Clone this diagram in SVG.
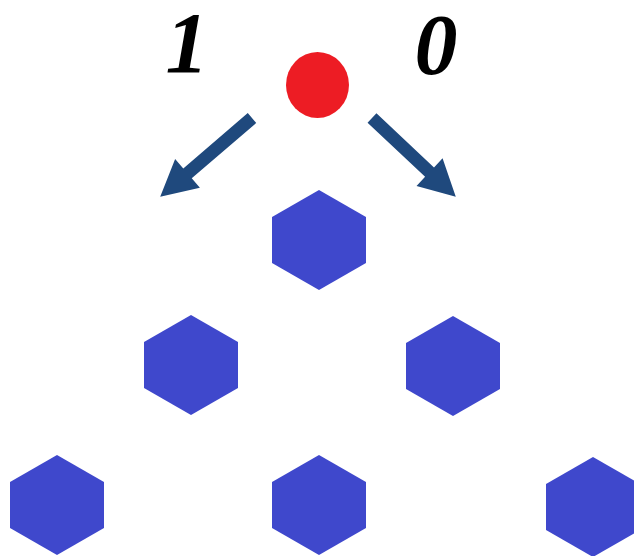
<svg xmlns="http://www.w3.org/2000/svg" width="634" height="556" viewBox="0 0 634 556">
<style>
.hex{fill:#3F48CC}
.lbl{font-family:"Liberation Serif","Times New Roman",serif;font-style:italic;font-weight:bold;font-size:86px;fill:#000;text-anchor:middle}
.arrow{fill:#1F497D}
</style>
<defs>
<polygon id="hx" points="0,-50 47,-23 47,23 0,50 -47,23 -47,-23"/>
</defs>
<rect width="634" height="556" fill="#fff"/>
<g id="label-1"><text class="lbl" x="187" y="72">1</text></g>
<g id="label-0"><text class="lbl" x="436" y="74">0</text></g>
<g id="source"><ellipse cx="317.5" cy="85" rx="31.5" ry="33" fill="#ED1C24"/></g>
<g id="connectors">
<polygon class="arrow" transform="translate(252,118) rotate(139.35)" points="0,-6.5 85,-6.5 85,-19 121,0 85,19 85,6.5 0,6.5"/>
<polygon class="arrow" transform="translate(372,118) rotate(43.24)" points="0,-6.5 79,-6.5 79,-19 115,0 79,19 79,6.5 0,6.5"/>
</g>
<g id="hex-top"><use href="#hx" class="hex" x="319" y="240"/></g>
<g id="hex-mid-left"><use href="#hx" class="hex" x="191" y="365"/></g>
<g id="hex-mid-right"><use href="#hx" class="hex" x="453" y="366"/></g>
<g id="hex-bot-left"><use href="#hx" class="hex" x="57" y="505"/></g>
<g id="hex-bot-mid"><use href="#hx" class="hex" x="319" y="505"/></g>
<g id="hex-bot-right"><use href="#hx" class="hex" x="593" y="507"/></g>
</svg>
